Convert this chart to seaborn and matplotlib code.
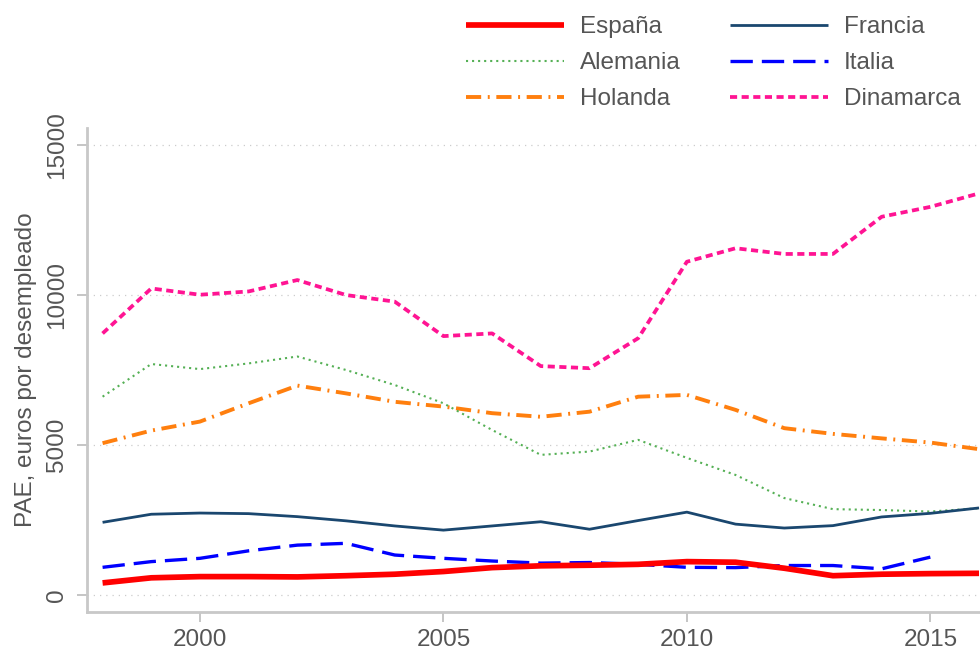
import matplotlib
matplotlib.use("Agg")
import matplotlib.pyplot as plt
import seaborn as sns
import pandas as pd
import numpy as np

anios = list(range(1998, 2017))

espana = [400, 570, 610, 610, 600, 640, 690, 780, 910, 970, 990, 1020, 1110, 1090, 890, 640, 690, 710, 720]
francia = [2420, 2690, 2730, 2710, 2610, 2470, 2300, 2160, 2300, 2440, 2190, 2480, 2760, 2360, 2230, 2310, 2600, 2720, 2900]
alemania = [6610, 7700, 7530, 7720, 7950, 7500, 7000, 6390, 5500, 4670, 4780, 5170, 4570, 4000, 3230, 2860, 2830, 2780, 2890]
italia = [920, 1110, 1220, 1470, 1660, 1720, 1330, 1220, 1130, 1060, 1080, 1020, 920, 910, 980, 980, 870, 1260, np.nan]
holanda = [5060, 5480, 5780, 6390, 6980, 6720, 6440, 6280, 6060, 5940, 6110, 6610, 6670, 6170, 5560, 5370, 5220, 5080, 4860]
dinamarca = [8720, 10220, 10010, 10120, 10500, 10000, 9780, 8630, 8720, 7630, 7560, 8560, 11110, 11560, 11370, 11370, 12610, 12940, 13390]

yticks = [0, 5000, 10000, 15000]
xticks = [2000, 2005, 2010, 2015]

df = pd.DataFrame({
    'Año': anios,
    'España': espana,
    'Francia': francia,
    'Alemania': alemania,
    'Italia': italia,
    'Holanda': holanda,
    'Dinamarca': dinamarca,
})

sns.set_style("white")
plt.rcParams['font.family'] = ['Liberation Sans', 'DejaVu Sans']

gris = '#555555'
fs = 17.5

fig = plt.figure(figsize=(9.8, 6.54), dpi=100)
ax = fig.add_axes([87 / 980, 42 / 654, 1 - 87 / 980, (612 - 128) / 654])

# estilo de cada serie
estilos = {
    'España':    dict(color='#ff0000', lw=4.1, dashes=None),
    'Alemania':  dict(color='#55b055', lw=1.5, dashes=(1, 1.9)),
    'Holanda':   dict(color='#ff7f0e', lw=2.8, dashes=(3.9, 1.7, 0.5, 1.7)),
    'Francia':   dict(color='#1a476f', lw=2.0, dashes=None),
    'Italia':    dict(color='#0000ff', lw=2.4, dashes=(6.7, 2.7)),
    'Dinamarca': dict(color='#ff1493', lw=2.7, dashes=(1.9, 1.2)),
}

# orden de dibujo (abajo -> arriba)
for pais in ['Dinamarca', 'Holanda', 'Alemania', 'Francia', 'Italia', 'España']:
    e = estilos[pais]
    sns.lineplot(x='Año', y=pais, data=df, ax=ax, color=e['color'], lw=e['lw'],
                 label=pais, legend=False)
    linea = ax.get_lines()[-1]
    if e['dashes'] is not None:
        linea.set_dashes(e['dashes'])
    linea.set_solid_capstyle('butt')
    linea.set_dash_capstyle('butt')

ax.set_xlim(1997.68, 2016.02)
ax.set_ylim(-570, 15570)
ax.set_xticks(xticks)
ax.set_yticks(yticks)
ax.set_yticklabels([str(v) for v in yticks], rotation=90, va='center')
ax.tick_params(axis='both', direction='out', length=7.5, width=1.2, color='#bbbbbb',
               labelsize=fs, labelcolor=gris)
ax.tick_params(axis='x', pad=5)
ax.tick_params(axis='y', pad=6)
ax.tick_params(axis='both', which='both', bottom=True, left=True)

for v in yticks:
    ax.axhline(v, color='#cccccc', lw=0.9, ls=(0, (1, 4)), zorder=0)

for lado in ['top', 'right']:
    ax.spines[lado].set_visible(False)
for lado in ['left', 'bottom']:
    ax.spines[lado].set_color('#c8c8c8')
    ax.spines[lado].set_linewidth(2)

ax.set_xlabel('')
ax.set_ylabel('PAE, euros por desempleado', fontsize=fs, color=gris, labelpad=7)

# leyenda arriba, 2 columnas
orden = ['España', 'Alemania', 'Holanda', 'Francia', 'Italia', 'Dinamarca']
lineas = {l.get_label(): l for l in ax.get_lines() if l.get_label() in orden}
leg = fig.legend([lineas[p] for p in orden], orden, ncol=2, loc='upper left',
                 bbox_to_anchor=(466 / 980, 1 - 16 / 654), frameon=False,
                 fontsize=fs, handlelength=4.03, handletextpad=0.66,
                 columnspacing=2.02, labelspacing=0.58, borderpad=0, borderaxespad=0)
for t in leg.get_texts():
    t.set_color(gris)

fig.savefig('out.png', dpi=100)
